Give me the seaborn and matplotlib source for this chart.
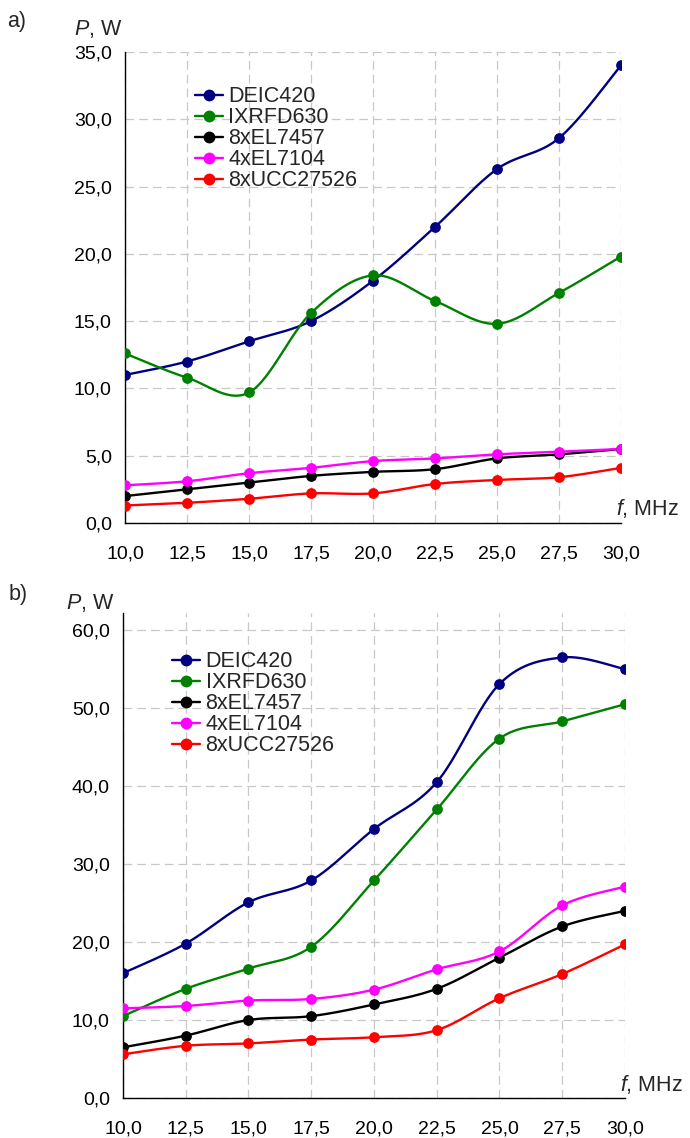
import matplotlib
matplotlib.use("Agg")
import matplotlib.pyplot as plt
from matplotlib.lines import Line2D
from matplotlib.ticker import FuncFormatter
import numpy as np
import pandas as pd
import seaborn as sns

sns.set_style("white")
plt.rcParams["font.family"] = ["Liberation Sans", "DejaVu Sans"]
plt.rcParams["mathtext.fontset"] = "custom"
plt.rcParams["mathtext.rm"] = "Liberation Sans"
plt.rcParams["mathtext.it"] = "Liberation Sans:italic"

# ---------------------------------------------------------------------------
# Data
# ---------------------------------------------------------------------------
FREQ = [10.0, 12.5, 15.0, 17.5, 20.0, 22.5, 25.0, 27.5, 30.0]
SERIES = ["DEIC420", "IXRFD630", "8xEL7457", "4xEL7104", "8xUCC27526"]
COLORS = ["#000080", "#008000", "#000000", "#ff00ff", "#ff0000"]

# panel a)
A_DEIC420 = [11.0, 12.0, 13.5, 15.0, 18.0, 22.0, 26.3, 28.6, 34.0]
A_IXRFD630 = [12.6, 10.8, 9.7, 15.6, 18.4, 16.5, 14.8, 17.1, 19.8]
A_EL7457 = [2.0, 2.5, 3.0, 3.5, 3.8, 4.0, 4.8, 5.1, 5.5]
A_EL7104 = [2.8, 3.1, 3.7, 4.1, 4.6, 4.8, 5.1, 5.3, 5.5]
A_UCC27526 = [1.3, 1.5, 1.8, 2.2, 2.2, 2.9, 3.2, 3.4, 4.1]

# panel b)
B_DEIC420 = [16.0, 19.8, 25.1, 27.9, 34.5, 40.5, 53.1, 56.5, 55.0]
B_IXRFD630 = [10.5, 14.0, 16.6, 19.4, 27.9, 37.0, 46.1, 48.3, 50.5]
B_EL7457 = [6.5, 8.0, 10.0, 10.5, 12.0, 14.0, 18.0, 22.0, 24.0]
B_EL7104 = [11.5, 11.8, 12.5, 12.7, 13.9, 16.5, 18.8, 24.7, 27.1]
B_UCC27526 = [5.6, 6.7, 7.0, 7.5, 7.8, 8.7, 12.8, 15.9, 19.7]

PANEL_A = [A_DEIC420, A_IXRFD630, A_EL7457, A_EL7104, A_UCC27526]
PANEL_B = [B_DEIC420, B_IXRFD630, B_EL7457, B_EL7104, B_UCC27526]


def smooth(x, y, sx, sy, n=30):
    """Excel-like smoothed line (Catmull-Rom as Bezier, in screen-ish space)."""
    p = np.column_stack([np.asarray(x) * sx, np.asarray(y) * sy])
    p = np.vstack([p[0], p, p[-1]])
    t = np.linspace(0, 1, n)[:, None]
    out = []
    for i in range(1, len(p) - 2):
        p0, p1, p2, p3 = p[i - 1], p[i], p[i + 1], p[i + 2]
        c1 = p1 + (p2 - p0) / 6
        c2 = p2 - (p3 - p1) / 6
        seg = ((1 - t) ** 3) * p1 + 3 * ((1 - t) ** 2) * t * c1 \
            + 3 * (1 - t) * t ** 2 * c2 + t ** 3 * p2
        out.append(seg if i == 1 else seg[1:])
    out = np.vstack(out)
    return out[:, 0] / sx, out[:, 1] / sy


comma = FuncFormatter(lambda v, _: f"{v:.1f}".replace(".", ","))

W, H = 690, 1138
fig = plt.figure(figsize=(W / 100, H / 100), dpi=100)


def draw_panel(rect, values, ymax, ystep, sy, leg_xy, tag, tag_xy, plab_xy, flab_xy):
    ax = fig.add_axes(rect)
    sx = 24.8
    for name, vals, col in zip(SERIES, values, COLORS):
        xs, ys = smooth(FREQ, vals, sx, sy)
        sns.lineplot(x=xs, y=ys, ax=ax, color=col, lw=1.7, sort=False,
                     estimator=None, zorder=3)
        sns.scatterplot(x=FREQ, y=vals, ax=ax, color=col, s=60,
                        edgecolor=col, linewidth=0, zorder=4)

    ax.set_xlim(10, 30)
    ax.set_ylim(0, ymax)
    ax.set_xticks(FREQ)
    ax.set_yticks(np.arange(0, ymax + 0.01, ystep))
    ax.xaxis.set_major_formatter(comma)
    ax.yaxis.set_major_formatter(comma)
    ax.grid(True, color="#c8c8c8", lw=0.9, linestyle=(0, (7, 4)))
    ax.set_axisbelow(True)
    for s in ["top", "right"]:
        ax.spines[s].set_visible(False)
    for s in ["left", "bottom"]:
        ax.spines[s].set_color("#000000")
        ax.spines[s].set_linewidth(1.0)
    ax.tick_params(axis="both", direction="inout", length=7, width=1,
                   labelsize=14, colors="#000000")
    ax.tick_params(axis="x", pad=13)
    ax.tick_params(axis="y", pad=6)
    ax.set_xlabel("")
    ax.set_ylabel("")

    handles = [Line2D([], [], color=c, lw=1.7, marker="o", markersize=7.5)
                for c in COLORS]
    ax.legend(handles, SERIES, loc="upper left", bbox_to_anchor=leg_xy,
              frameon=False, fontsize=15.5, borderpad=0, borderaxespad=0,
              handlelength=1.3, handletextpad=0.25, labelspacing=0.0)

    fig.text(tag_xy[0] / W, 1 - tag_xy[1] / H, tag, fontsize=15.5,
             ha="left", va="center")
    fig.text(plab_xy[0] / W, 1 - plab_xy[1] / H, r"$\it{P}$, W",
             fontsize=15.5, ha="left", va="center")
    fig.text(flab_xy[0] / W, 1 - flab_xy[1] / H, r"$\it{f}$, MHz",
             fontsize=15.5, ha="left", va="center")
    return ax


draw_panel([125 / W, 1 - 523 / H, 496 / W, 471 / H], PANEL_A, 35, 5, 13.46,
           (0.141, 0.927), "a)", (7, 21), (74, 29), (616, 508))
draw_panel([123 / W, 1 - 1098 / H, 502 / W, 485 / H], PANEL_B, 62.2, 10, 7.8,
           (0.098, 0.921), "b)", (9, 595), (66, 603), (620, 1084))

fig.savefig("out.png", dpi=100)
